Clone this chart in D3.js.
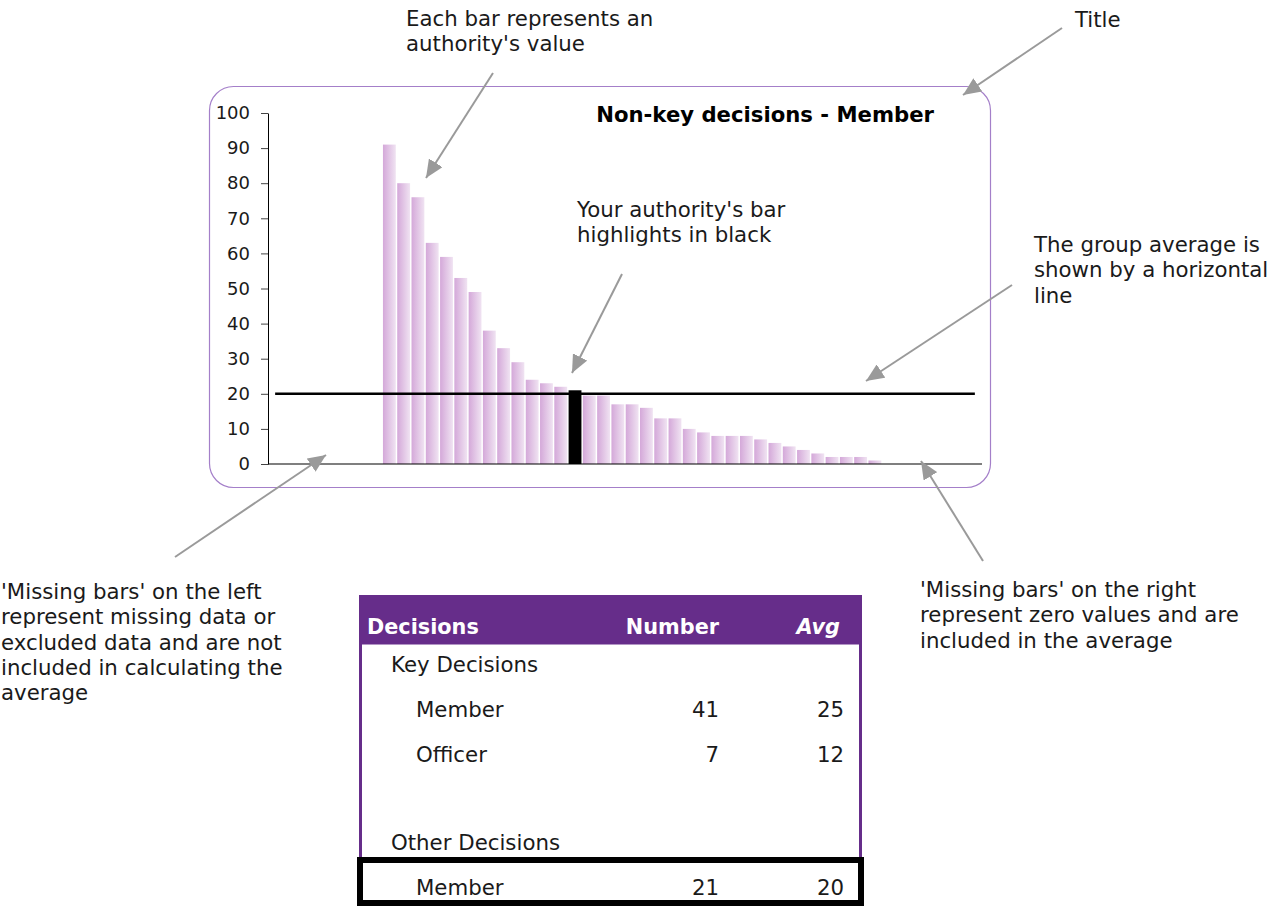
<!DOCTYPE html>
<html>
<head>
<meta charset="utf-8">
<script src="https://cdn.jsdelivr.net/npm/d3@7/dist/d3.min.js"></script>
<style>
	body { margin: 0; background: #fff; }
	text { font-family: "DejaVu Sans", Verdana, sans-serif; }
</style>
</head>
<body>
<svg id="chart" width="1282" height="906"></svg>
<script>
// authorities, left to right (null = missing / excluded data)
var authorities = d3.range(1, 51);
var authorityValues = [null, null, null, null, null, null, null, null,
	91, 80, 76, 63, 59, 53, 49, 38, 33, 29, 24, 23, 22, 21,
	19.5, 19.5, 17, 17, 16, 13, 13, 10, 9, 8, 8, 8, 7, 6, 5, 4, 3, 2, 2, 2, 1,
	0, 0, 0, 0, 0, 0, 0];
var highlightAuthority = 22; // your authority
var groupAverage = 20;
var yTicks = [0, 10, 20, 30, 40, 50, 60, 70, 80, 90, 100];
var chartTitle = "Non-key decisions - Member";

// table
var tableHeader = ["Decisions", "Number", "Avg"];
var rowLabels = ["Key Decisions", "Member", "Officer", "", "Other Decisions", "Member"];
var rowNumbers = [null, 41, 7, null, null, 21];
var rowAvgs = [null, 25, 12, null, null, 20];

var svg = d3.select("#chart");
var purple = "#662d8a", arrowGrey = "#9a9a9a", ink = "#1a1a1a";

// ---- chart frame
svg.append("rect")
	.attr("x", 209.5).attr("y", 86.5)
	.attr("width", 781).attr("height", 401)
	.attr("rx", 24).attr("ry", 24)
	.attr("fill", "#fff")
	.attr("stroke", "#a47fc9")
	.attr("stroke-width", 1.2);

var defs = svg.append("defs");
var grad = defs.append("linearGradient")
	.attr("id", "barGrad")
	.attr("x1", "0%").attr("x2", "100%").attr("y1", "0%").attr("y2", "0%");
grad.append("stop").attr("offset", "0%").attr("stop-color", "#d4a8d9");
grad.append("stop").attr("offset", "100%").attr("stop-color", "#f0e3f2");

defs.append("marker")
	.attr("id", "arrowHead")
	.attr("markerUnits", "userSpaceOnUse")
	.attr("markerWidth", 20).attr("markerHeight", 16)
	.attr("refX", 18).attr("refY", 8)
	.attr("orient", "auto")
	.append("path")
	.attr("d", "M0,0 L18,8 L0,16 Z")
	.attr("fill", arrowGrey);

var x = d3.scaleBand()
	.domain(authorities)
	.range([268, 982])
	.paddingInner(0.1)
	.paddingOuter(0.05);

var y = d3.scaleLinear()
	.domain([0, 100])
	.range([464, 113]);

var data = authorities.map(function(a, i) {
	return {id: a, value: authorityValues[i]};
});

// bars
svg.append("g").selectAll("rect")
	.data(data.filter(function(d) { return d.value != null && d.value > 0; }))
	.join("rect")
	.attr("x", function(d) { return x(d.id); })
	.attr("y", function(d) { return y(d.value); })
	.attr("width", x.bandwidth())
	.attr("height", function(d) { return y(0) - y(d.value); })
	.attr("fill", function(d) { return d.id === highlightAuthority ? "#000" : "url(#barGrad)"; });

// y axis
var yAxis = svg.append("g")
	.attr("transform", "translate(268,0)")
	.call(d3.axisLeft(y).tickValues(yTicks).tickSize(7).tickSizeOuter(0).tickPadding(11));
yAxis.select(".domain").attr("stroke", "#000");
yAxis.selectAll(".tick line").attr("stroke", "#444");
yAxis.selectAll("text")
	.style("font-family", "\"DejaVu Sans\", Verdana, sans-serif")
	.style("font-size", "18px")
	.style("fill", ink);

// x axis baseline
svg.append("line")
	.attr("x1", x.range()[0]).attr("x2", x.range()[1])
	.attr("y1", y(0)).attr("y2", y(0))
	.attr("stroke", "#000").attr("stroke-width", 1.2);

// group average line
svg.append("line")
	.attr("x1", x.range()[0] + x.step() / 2).attr("x2", x.range()[1] - x.step() / 2)
	.attr("y1", y(groupAverage)).attr("y2", y(groupAverage))
	.attr("stroke", "#000").attr("stroke-width", 2.5);

// title
svg.append("text")
	.attr("x", 934).attr("y", 122)
	.attr("text-anchor", "end")
	.style("font-size", "21.2px")
	.style("font-weight", "bold")
	.style("fill", "#000")
	.text(chartTitle);

// ---- annotations
var notes = [
	{x: 406, y: 26, lines: ["Each bar represents an", "authority's value"]},
	{x: 1075, y: 27, lines: ["Title"]},
	{x: 577, y: 217, lines: ["Your authority's bar", "highlights in black"]},
	{x: 1034, y: 252, lines: ["The group average is", "shown by a horizontal", "line"]},
	{x: 1, y: 599, lines: ["'Missing bars' on the left", "represent missing data or", "excluded data and are not", "included in calculating the", "average"]},
	{x: 920, y: 597, lines: ["'Missing bars' on the right", "represent zero values and are", "included in the average"]}
];
notes.forEach(function(n) {
	var t = svg.append("text")
		.attr("x", n.x).attr("y", n.y)
		.style("font-size", "21.3px")
		.style("fill", ink);
	n.lines.forEach(function(l, i) {
		t.append("tspan").attr("x", n.x).attr("dy", i === 0 ? 0 : 25.3).text(l);
	});
});

var arrows = [
	[493, 73, 426, 178],
	[1062, 28, 963, 95],
	[622, 274, 572, 373],
	[1012, 285, 866, 381],
	[175, 557, 326, 455],
	[983, 561, 921, 461]
];
svg.append("g").selectAll("line")
	.data(arrows)
	.join("line")
	.attr("x1", function(d) { return d[0]; })
	.attr("y1", function(d) { return d[1]; })
	.attr("x2", function(d) { return d[2]; })
	.attr("y2", function(d) { return d[3]; })
	.attr("stroke", arrowGrey)
	.attr("stroke-width", 2)
	.attr("marker-end", "url(#arrowHead)");

// ---- table
var tLeft = 359, tRight = 862, tTop = 595, headH = 48;
svg.append("rect")
	.attr("x", tLeft).attr("y", tTop)
	.attr("width", tRight - tLeft).attr("height", headH)
	.attr("fill", purple);
svg.append("rect")
	.attr("x", tLeft + 1.5).attr("y", tTop + headH)
	.attr("width", tRight - tLeft - 3).attr("height", 300)
	.attr("fill", "#fff")
	.attr("stroke", purple).attr("stroke-width", 3);

var headX = [367, 719, 840];
var headAnchor = ["start", "end", "end"];
tableHeader.forEach(function(h, i) {
	svg.append("text")
		.attr("x", headX[i]).attr("y", 634)
		.attr("text-anchor", headAnchor[i])
		.style("font-size", "20.8px")
		.style("font-weight", "bold")
		.style("font-style", i === 2 ? "italic" : "normal")
		.style("fill", "#fff")
		.text(h);
});

var rowY = [672, 717, 762, 807, 850, 895];
rowLabels.forEach(function(lbl, i) {
	var indent = rowNumbers[i] == null ? 391 : 416;
	svg.append("text").attr("x", indent).attr("y", rowY[i])
		.style("font-size", "21.3px").style("fill", ink).text(lbl);
	if (rowNumbers[i] != null) {
		svg.append("text").attr("x", 719).attr("y", rowY[i])
			.attr("text-anchor", "end").style("font-size", "21.3px").style("fill", ink).text(rowNumbers[i]);
		svg.append("text").attr("x", 844).attr("y", rowY[i])
			.attr("text-anchor", "end").style("font-size", "21.3px").style("fill", ink).text(rowAvgs[i]);
	}
});

// your authority's row in black box
svg.append("rect")
	.attr("x", 360).attr("y", 860)
	.attr("width", 501).attr("height", 43)
	.attr("fill", "none")
	.attr("stroke", "#000").attr("stroke-width", 6);
</script>
</body>
</html>
